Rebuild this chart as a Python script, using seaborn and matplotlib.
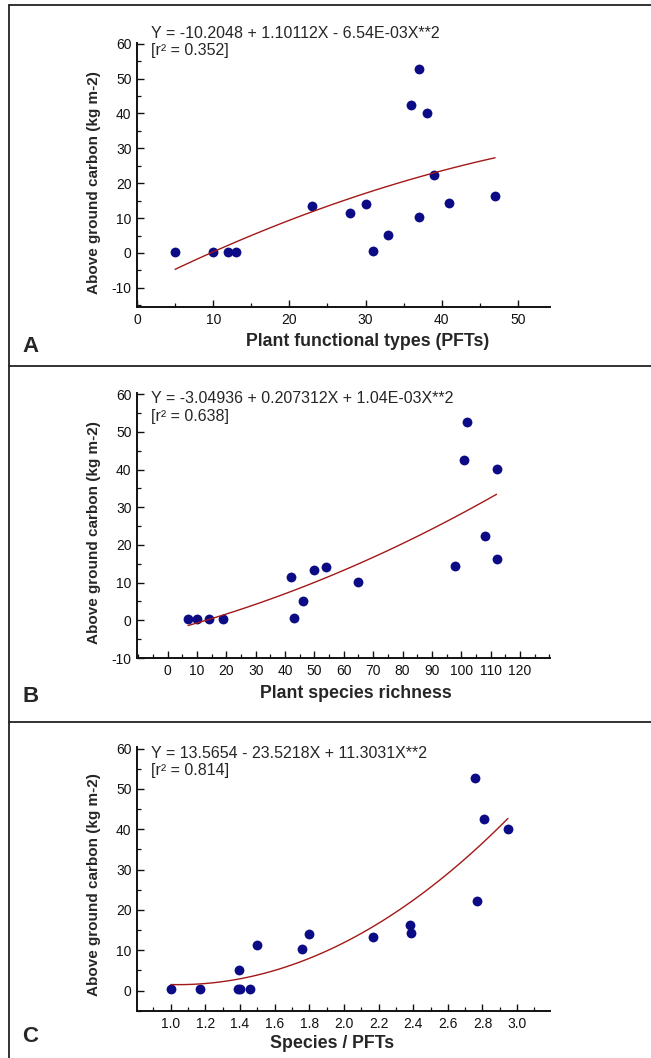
import matplotlib
matplotlib.use('Agg')
import matplotlib.pyplot as plt
import seaborn as sns
import pandas as pd
from matplotlib.lines import Line2D
from matplotlib.ticker import MultipleLocator, FormatStrFormatter

# values
carbon = [0.3, 0.3, 0.3, 0.3, 13.4, 11.4, 14.1, 0.5, 5.1, 42.5, 52.7, 40.1,
          10.2, 22.3, 14.4, 16.2]
pfts = [5, 10, 12, 13, 23, 28, 30, 31, 33, 36, 37, 38, 37, 39, 41, 47]
species = [7, 10, 14, 19, 50, 42, 54, 43, 46, 101, 102, 112, 65, 108, 98, 112]
ratio = [1.40, 1.00, 1.167, 1.46, 2.17, 1.50, 1.80, 1.387, 1.394, 2.806,
         2.757, 2.947, 1.757, 2.769, 2.39, 2.383]

equations = ['Y = -10.2048 + 1.10112X - 6.54E-03X**2',
             'Y = -3.04936 + 0.207312X + 1.04E-03X**2',
             'Y = 13.5654 - 23.5218X + 11.3031X**2']
r2_labels = ['[r\u00b2 = 0.352]', '[r\u00b2 = 0.638]', '[r\u00b2 = 0.814]']
xlabels = ['Plant functional types (PFTs)', 'Plant species richness', 'Species / PFTs']
panel_letters = ['A', 'B', 'C']

df = pd.DataFrame({'carbon': carbon, 'pfts': pfts, 'species': species, 'ratio': ratio})

sns.set_style('ticks')
plt.rcParams['font.family'] = ['Liberation Sans', 'DejaVu Sans']
plt.rcParams['axes.unicode_minus'] = False

fig = plt.figure(figsize=(6.51, 10.58), dpi=100)

W, H = 651, 1058
# axes boxes in pixels: left, top, right, bottom
boxes = [(137, 43, 550, 307), (137, 393, 550, 658), (137, 747, 550, 1011)]
xlims = [(0, 54.2), (-10.4, 130.2), (0.805, 3.19)]
ylims = [(-15.5, 60.2), (-10, 60.3), (-5.05, 60.4)]
xminor = [5, 5, 0.1]
ymaj_lo = [-10, -10, 0]
xticks = [[0, 10, 20, 30, 40, 50],
          list(range(0, 121, 10)),
          [1.0, 1.2, 1.4, 1.6, 1.8, 2.0, 2.2, 2.4, 2.6, 2.8, 3.0]]
xcols = ['pfts', 'species', 'ratio']
eq_y = [34, 399, 753]
xlab_pos = [(0.559, 26), (0.530, 27), (0.472, 24)]
ylab_y = [0.47, 0.473, 0.48]
letter_y = [346, 696, 1037]

for i in range(3):
    l, t, r, b = boxes[i]
    ax = fig.add_axes([l / W, 1 - b / H, (r - l) / W, (b - t) / H])
    sns.regplot(data=df, x=xcols[i], y='carbon', order=2, ci=None, ax=ax,
                scatter_kws={'s': 50, 'color': '#0b0b85', 'linewidths': 0, 'alpha': 1},
                line_kws={'color': '#a31818', 'lw': 1.0})
    ax.set_xlim(*xlims[i])
    ax.set_ylim(*ylims[i])
    ax.set_xticks(xticks[i])
    ax.xaxis.set_minor_locator(MultipleLocator(xminor[i]))
    ax.set_yticks(list(range(ymaj_lo[i], 61, 10)))
    ax.yaxis.set_minor_locator(MultipleLocator(5))
    if i == 2:
        ax.xaxis.set_major_formatter(FormatStrFormatter('%.1f'))

    sns.despine(ax=ax)
    for s in ['left', 'bottom']:
        ax.spines[s].set_linewidth(1.4)
        ax.spines[s].set_color('#111111')
    ax.tick_params(which='major', direction='in', length=5, width=1.0,
                   labelsize=10, colors='#111111', pad=4)
    ax.tick_params(which='minor', direction='in', length=3, width=0.9, colors='#111111')

    ax.set_xlabel(xlabels[i], fontsize=12.8, fontweight='bold')
    ax.set_ylabel('Above ground carbon (kg m-2)', fontsize=11, fontweight='bold')
    ax.xaxis.set_label_coords(xlab_pos[i][0], -xlab_pos[i][1] / (b - t))
    ax.yaxis.set_label_coords(-0.087, ylab_y[i])

    fig.text(151 / W, 1 - eq_y[i] / H, equations[i], fontsize=11.5, va='center', ha='left')
    fig.text(151 / W, 1 - (eq_y[i] + 17) / H, r2_labels[i], fontsize=11.5, va='center', ha='left')
    fig.text(22 / W, 1 - letter_y[i] / H, panel_letters[i], fontsize=16,
             fontweight='bold', va='center', ha='left')

# panel frame lines
frame_kw = dict(color='#222222', lw=1.3, transform=fig.transFigure)
fig.add_artist(Line2D([9 / W, 9 / W], [1 - 5 / H, 0], **frame_kw))
for yy in [5, 366, 722]:
    fig.add_artist(Line2D([9 / W, 1], [1 - yy / H, 1 - yy / H], **frame_kw))

fig.savefig('out.png', dpi=100)
